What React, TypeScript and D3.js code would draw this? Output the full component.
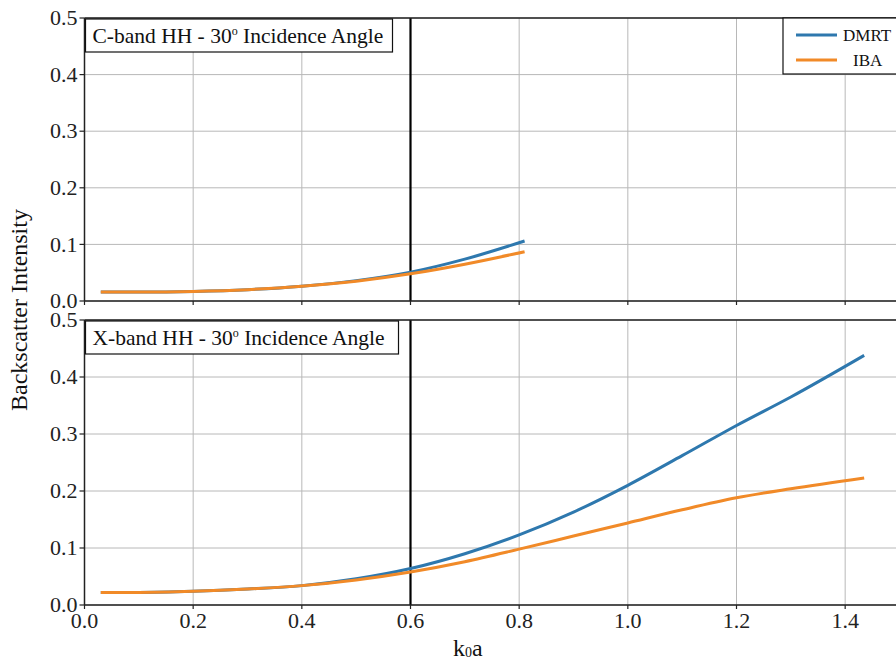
import React from "react";
import * as d3 from "d3";

const cX = [0.03, 0.1, 0.2, 0.3, 0.4, 0.5, 0.6, 0.7, 0.81];
const cDMRT = [0.016, 0.016, 0.017, 0.02, 0.026, 0.036, 0.051, 0.074, 0.106];
const cIBA = [0.016, 0.016, 0.017, 0.02, 0.026, 0.035, 0.048, 0.065, 0.087];

const xX = [0.03, 0.1, 0.2, 0.3, 0.4, 0.5, 0.6, 0.7, 0.8, 0.9, 1.0, 1.1, 1.2, 1.3, 1.435];
const xDMRT = [0.022, 0.022, 0.024, 0.028, 0.034, 0.046, 0.064, 0.09, 0.123, 0.163, 0.21, 0.262, 0.315, 0.365, 0.438];
const xIBA = [0.022, 0.022, 0.024, 0.028, 0.034, 0.044, 0.058, 0.076, 0.098, 0.121, 0.144, 0.167, 0.188, 0.204, 0.223];

const xTicks = [0.0, 0.2, 0.4, 0.6, 0.8, 1.0, 1.2, 1.4];
const yTicks = [0.0, 0.1, 0.2, 0.3, 0.4, 0.5];
const seriesNames = ["DMRT", "IBA"];
const colors = ["#2e78ae", "#f18a28"];
const panelTitles = ["C-band HH - 30", "X-band HH - 30"];

const FONT = "'Liberation Serif', 'Times New Roman', Times, 'DejaVu Serif', serif";
const ts = { fontFamily: FONT };

export default function App() {
  const W = 896, H = 661;
  const left = 84.5;
  const x = d3.scaleLinear().domain([0, 1.5]).range([left, left + 815]);
  const panels = [
    { top: 18, bottom: 301, xs: cX, d: cDMRT, i: cIBA, boxW: 307 },
    { top: 320, bottom: 605, xs: xX, d: xDMRT, i: xIBA, boxW: 313 },
  ];
  return (
    <svg width={W} height={H} style={{ position: "absolute", left: 0, top: 0, background: "#fff", fontFamily: FONT }}>
      <rect x={0} y={0} width={W} height={H} fill="#fff" />
      {panels.map((p, pi) => {
        const y = d3.scaleLinear().domain([0, 0.5]).range([p.bottom, p.top]);
        const line = (vals: number[]) =>
          d3.line<number>().x((_, k) => x(p.xs[k])).y((v) => y(v)).curve(d3.curveMonotoneX)(vals) || "";
        return (
          <g key={pi}>
            <defs>
              <clipPath id={`clip${pi}`}>
                <rect x={left} y={p.top} width={W} height={p.bottom - p.top} />
              </clipPath>
            </defs>
            {xTicks.map((t) => (
              <line key={"gx" + t} x1={x(t)} x2={x(t)} y1={p.top} y2={p.bottom} stroke="#b8b8b8" strokeWidth={1} />
            ))}
            {yTicks.map((t) => (
              <line key={"gy" + t} x1={left} x2={W} y1={y(t)} y2={y(t)} stroke="#b8b8b8" strokeWidth={1} />
            ))}
            <line x1={x(0.6)} x2={x(0.6)} y1={p.top} y2={p.bottom} stroke="#000" strokeWidth={2.2} />
            <g clipPath={`url(#clip${pi})`}>
              <path d={line(p.d)} fill="none" stroke={colors[0]} strokeWidth={3} />
              <path d={line(p.i)} fill="none" stroke={colors[1]} strokeWidth={3} />
            </g>
            <line x1={left} x2={W} y1={p.top} y2={p.top} stroke="#222" strokeWidth={1.5} />
            <line x1={left} x2={W} y1={p.bottom} y2={p.bottom} stroke="#222" strokeWidth={1.5} />
            <line x1={left} x2={left} y1={p.top} y2={p.bottom} stroke="#222" strokeWidth={1.5} />
            {yTicks.map((t) => (
              <g key={"yt" + t}>
                <line x1={left - 5} x2={left} y1={y(t)} y2={y(t)} stroke="#222" strokeWidth={1.2} />
                <text x={left - 7} y={y(t)} dy="0.33em" textAnchor="end" fontSize={22} fill="#222" style={ts}>
                  {t.toFixed(1)}
                </text>
              </g>
            ))}
            {xTicks.map((t) => (
              <line key={"xt" + t} x1={x(t)} x2={x(t)} y1={p.bottom} y2={p.bottom + 4} stroke="#222" strokeWidth={1.2} />
            ))}
            <rect x={left + 1} y={p.top + 1} width={p.boxW} height={33} fill="#fff" stroke="#111" strokeWidth={1.2} />
            <text x={left + 8} y={p.top + 25} fontSize={21.5} fill="#111" style={ts}>
              {panelTitles[pi]}
              <tspan fontSize={12} dy={-8}>o</tspan>
              <tspan dy={8}> Incidence Angle</tspan>
            </text>
          </g>
        );
      })}
      {xTicks.map((t) => (
        <text key={"xl" + t} x={x(t)} y={628} textAnchor="middle" fontSize={22} fill="#222" style={ts}>
          {t.toFixed(1)}
        </text>
      ))}
      <rect x={783} y={18} width={130} height={56} fill="#fff" stroke="#111" strokeWidth={1.2} />
      {seriesNames.map((n, k) => (
        <g key={n}>
          <line x1={796} x2={837} y1={35 + k * 25} y2={35 + k * 25} stroke={colors[k]} strokeWidth={3} />
          <text x={k === 0 ? 843 : 853} y={35 + k * 25} dy="0.35em" fontSize={17} fill="#111" style={ts}>
            {n}
          </text>
        </g>
      ))}
      <text transform="translate(27,310) rotate(-90)" textAnchor="middle" fontSize={24} fill="#111" style={ts}>
        Backscatter Intensity
      </text>
      <text x={453} y={656} fontSize={24} fill="#111" style={ts}>
        k<tspan fontSize={14} dy={1}>0</tspan>
        <tspan dy={-1}>a</tspan>
      </text>
    </svg>
  );
}
